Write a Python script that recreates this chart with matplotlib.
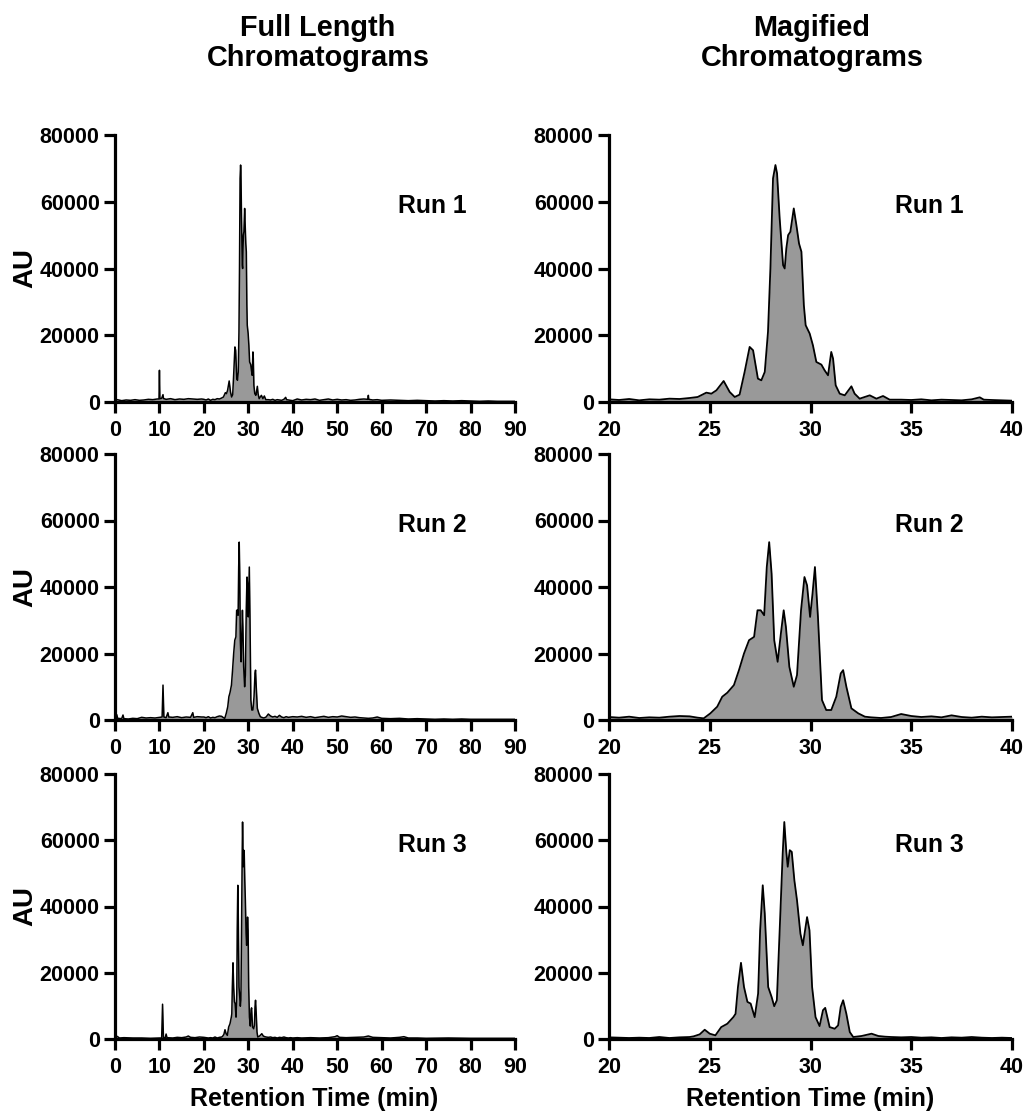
import numpy as np
import matplotlib
matplotlib.use("Agg")
import matplotlib.pyplot as plt

plt.rcParams['font.family'] = ['Liberation Sans', 'DejaVu Sans']
plt.rcParams['font.weight'] = 'bold'

# ---------------- Data ----------------
# Run 1: main region 20-40 min
run1_t = [20, 20.5, 21, 21.5, 22, 22.5, 23, 23.5, 24, 24.4, 24.83, 25.08, 25.33, 25.69, 25.99, 26.24,
          26.48, 26.73, 26.98, 27.15, 27.39, 27.56, 27.73, 27.89, 28.01, 28.14, 28.26, 28.34, 28.47,
          28.64, 28.72, 28.80, 28.89, 29.00, 29.17, 29.30, 29.43, 29.55, 29.67, 29.76, 29.96, 30.12,
          30.29, 30.54, 30.70, 30.87, 31.03, 31.12, 31.25, 31.45, 31.70, 32.03, 32.19, 32.44, 32.94,
          33.27, 33.60, 33.93, 34.5, 35, 35.5, 36, 36.5, 37, 37.5, 38, 38.4, 38.6, 39, 39.5, 40]
run1_v = [800, 600, 900, 500, 800, 700, 1000, 900, 1200, 1500, 2800, 2500, 3500, 6300, 3000, 1500,
          2200, 9000, 16500, 15500, 7000, 6500, 9000, 21000, 40000, 67000, 71000, 68500, 55000,
          41000, 40000, 46000, 50000, 51000, 58000, 53000, 47500, 45000, 29000, 23000, 20500, 17000,
          12000, 11200, 9500, 8000, 15000, 13000, 5000, 2500, 2000, 4700, 2500, 1000, 2000,
          1000, 1800, 700, 700, 600, 800, 500, 700, 600, 500, 800, 1400, 700, 600, 500, 400]
run1_pre_t = [0, 0.5, 1.5, 2.5, 3.5, 4.5, 5.5, 6.5, 7.5, 8.5, 9.5, 9.9, 10.0, 10.1, 10.5, 10.8, 10.9,
              11.0, 11.5, 12.5, 13.5, 14.5, 15.5, 16.5, 17.5, 18.5, 19.5]
run1_pre_v = [500, 700, 400, 600, 500, 700, 500, 600, 800, 700, 900, 900, 9500, 1000, 1100, 2200, 1100,
              1000, 800, 1000, 700, 900, 800, 1000, 900, 800, 900]
run1_post_t = [41, 42, 43, 44, 45, 46, 47, 48, 49, 50, 51, 52, 53, 54, 55, 56, 56.9, 57.0, 57.1, 58, 59,
               60, 62, 64, 66, 68, 70, 72, 74, 76, 78, 80, 82, 84, 86, 88, 90]
run1_post_v = [900, 600, 800, 700, 900, 500, 700, 900, 600, 800, 600, 700, 500, 600, 800, 900, 800, 2000,
               800, 600, 700, 500, 600, 500, 400, 500, 400, 300, 400, 300, 400, 300, 200, 300, 200, 200, 200]

# Run 2
run2_t = [20, 20.5, 21, 21.5, 22, 22.5, 23, 23.5, 24, 24.4, 24.7, 25.03, 25.37, 25.62, 25.87, 26.2,
          26.45, 26.7, 26.95, 27.2, 27.37, 27.53, 27.7, 27.83, 27.95, 28.07, 28.2, 28.37, 28.53,
          28.67, 28.78, 28.95, 29.17, 29.33, 29.53, 29.7, 29.83, 29.98, 30.1, 30.22, 30.37, 30.57,
          30.78, 31.03, 31.28, 31.5, 31.62, 31.78, 32.03, 32.37, 32.7, 33, 33.5, 34, 34.5, 35, 35.5,
          36, 36.5, 37, 37.5, 38, 38.5, 39, 39.5, 40]
run2_v = [900, 700, 1000, 600, 800, 700, 1000, 1200, 1100, 700, 500, 2000, 4000, 7000, 8200, 10500,
          15000, 20000, 24000, 25000, 33000, 33000, 31500, 46000, 53500, 44000, 24000, 17500, 26000,
          33000, 28000, 16000, 10000, 13500, 33000, 43000, 40500, 31000, 38000, 46000, 31000, 6000,
          3000, 3000, 7000, 14000, 15000, 10000, 3500, 2000, 1000, 800, 600, 900, 1800, 1200, 900,
          1100, 800, 1400, 900, 700, 1000, 800, 900, 1000]
run2_pre_t = [0, 0.4, 0.6, 1.5, 1.8, 2.0, 3, 4, 5, 6, 7, 8, 9, 10, 10.6, 10.8, 11.0, 11.5, 11.9, 12.1,
              13, 14, 15, 16, 17, 17.5, 17.7, 18.5, 19.5]
run2_pre_v = [500, 1600, 500, 400, 1500, 400, 300, 500, 400, 800, 600, 700, 600, 800, 900, 10500, 900,
              700, 2200, 900, 800, 1000, 700, 900, 800, 2200, 800, 1000, 900]
run2_post_t = [41, 42, 43, 44, 45, 46, 47, 48, 49, 50, 51, 52, 53, 54, 55, 56, 57, 58, 59, 60, 62, 64,
               66, 68, 70, 72, 74, 76, 78, 80, 84, 88, 90]
run2_post_v = [900, 1100, 800, 1000, 700, 900, 1100, 800, 1000, 900, 1200, 1000, 800, 900, 700, 600,
               500, 600, 900, 500, 400, 500, 300, 400, 300, 200, 300, 200, 300, 200, 200, 200, 200]

# Run 3
run3_t = [20, 20.5, 21, 21.5, 22, 22.5, 23, 23.5, 24, 24.2, 24.5, 24.75, 25.0, 25.28, 25.57, 25.87,
          26.17, 26.28, 26.4, 26.55, 26.7, 26.87, 27.03, 27.23, 27.4, 27.5, 27.63, 27.73, 27.9,
          28.07, 28.2, 28.33, 28.47, 28.62, 28.7, 28.8, 28.87, 28.97, 29.07, 29.2, 29.33, 29.5,
          29.62, 29.73, 29.83, 29.95, 30.08, 30.25, 30.45, 30.62, 30.73, 30.95, 31.2, 31.37, 31.5,
          31.62, 31.78, 31.95, 32.12, 32.53, 33.03, 33.37, 33.7, 34, 34.5, 35, 35.5, 36, 36.5, 37,
          37.5, 38, 38.5, 39, 39.5, 40]
run3_v = [500, 400, 300, 400, 300, 600, 300, 500, 600, 800, 1400, 2800, 1600, 1100, 3600, 4600,
          6600, 7600, 15700, 23000, 15700, 11200, 10700, 6600, 13700, 32800, 46400, 37900, 15700,
          12700, 9900, 11700, 32800, 56000, 65500, 56500, 52000, 57000, 56500, 47900, 41900, 31800,
          28300, 32800, 36800, 32800, 15700, 6600, 3900, 8700, 9400, 3600, 3100, 4100, 9700,
          11700, 7600, 2100, 600, 900, 1600, 900, 700, 600, 500, 600, 400, 500, 300, 500,
          400, 600, 400, 300, 400, 300]
run3_pre_t = [0, 0.5, 1, 2, 4, 6, 8, 10, 10.5, 10.7, 10.9, 11.3, 11.5, 11.7, 13, 14, 15, 16, 16.5, 17,
              18, 19]
run3_pre_v = [500, 800, 300, 400, 300, 300, 200, 300, 300, 10500, 400, 400, 1500, 400, 300, 500, 400,
              600, 900, 500, 400, 600]
run3_post_t = [41, 42, 44, 46, 48, 49.5, 50, 50.5, 52, 54, 56, 57, 58, 60, 62, 64, 65, 66, 68, 70, 75,
               80, 85, 90]
run3_post_v = [400, 300, 400, 300, 400, 700, 1000, 500, 400, 500, 600, 900, 500, 400, 300, 500, 700,
               300, 300, 200, 300, 200, 200, 200]

runs = [
    ("Run 1", run1_pre_t, run1_pre_v, run1_t, run1_v, run1_post_t, run1_post_v),
    ("Run 2", run2_pre_t, run2_pre_v, run2_t, run2_v, run2_post_t, run2_post_v),
    ("Run 3", run3_pre_t, run3_pre_v, run3_t, run3_v, run3_post_t, run3_post_v),
]

full_xticks = [0, 10, 20, 30, 40, 50, 60, 70, 80, 90]
mag_xticks = [20, 25, 30, 35, 40]
yticks = [0, 20000, 40000, 60000, 80000]

# ---------------- Figure ----------------
W, H = 1027, 1113
fig = plt.figure(figsize=(W / 100, H / 100), dpi=100)

def fx(px):
    return px / W

def fy(px):
    return 1 - px / H

rows = [(135, 402), (454, 720), (774, 1039)]
cols = [(115, 515), (609, 1012)]

FILL = '#999999'
TICKFS = 15.5

def style(ax, xlim, xticks):
    ax.set_xlim(xlim)
    ax.set_ylim(0, 80000)
    ax.set_xticks(xticks)
    ax.set_yticks(yticks)
    ax.set_xticklabels([str(t) for t in xticks])
    ax.set_yticklabels([str(t) for t in yticks])
    for s in ['top', 'right']:
        ax.spines[s].set_visible(False)
    for s in ['left', 'bottom']:
        ax.spines[s].set_linewidth(2.3)
    ax.tick_params(direction='out', length=8, width=2.3, labelsize=TICKFS)
    ax.tick_params(axis='x', pad=5)
    ax.tick_params(axis='y', pad=3)
    for lab in ax.get_xticklabels() + ax.get_yticklabels():
        lab.set_fontweight('bold')
    ax.patch.set_alpha(0)

for r, (name, pre_t, pre_v, t, v, post_t, post_v) in enumerate(runs):
    top, bot = rows[r]
    full_t = np.array(pre_t + t + post_t)
    full_v = np.array(pre_v + v + post_v)
    # Full length
    l, rr = cols[0]
    ax = fig.add_axes([fx(l), fy(bot), fx(rr - l), (bot - top) / H])
    ax.fill_between(full_t, 0, full_v, color=FILL, lw=0)
    ax.plot(full_t, full_v, color='black', lw=1.1)
    style(ax, (0, 90), full_xticks)
    ax.text(71.5, 58700, name, fontsize=17.8, fontweight='bold', ha='center', va='center')
    fig.text(fx(25.5), fy((top + bot) / 2), 'AU', rotation=90, fontsize=20, fontweight='bold',
             ha='center', va='center')
    # Magnified
    l, rr = cols[1]
    ax2 = fig.add_axes([fx(l), fy(bot), fx(rr - l), (bot - top) / H])
    ta = np.array(t)
    va_ = np.array(v)
    ax2.fill_between(ta, 0, va_, color=FILL, lw=0)
    ax2.plot(ta, va_, color='black', lw=1.3)
    style(ax2, (20, 40), mag_xticks)
    ax2.text(35.9, 58700, name, fontsize=17.8, fontweight='bold', ha='center', va='center')

fig.text(fx(318), fy(43), 'Full Length\nChromatograms', fontsize=20.8, fontweight='bold',
         ha='center', va='center', linespacing=1.12)
fig.text(fx(812), fy(43), 'Magified\nChromatograms', fontsize=20.8, fontweight='bold',
         ha='center', va='center', linespacing=1.12)
fig.text(fx(314), fy(1106), 'Retention Time (min)', fontsize=18, fontweight='bold',
         ha='center', va='baseline')
fig.text(fx(810), fy(1106), 'Retention Time (min)', fontsize=18, fontweight='bold',
         ha='center', va='baseline')

fig.savefig('out.png', dpi=100, facecolor='white')
